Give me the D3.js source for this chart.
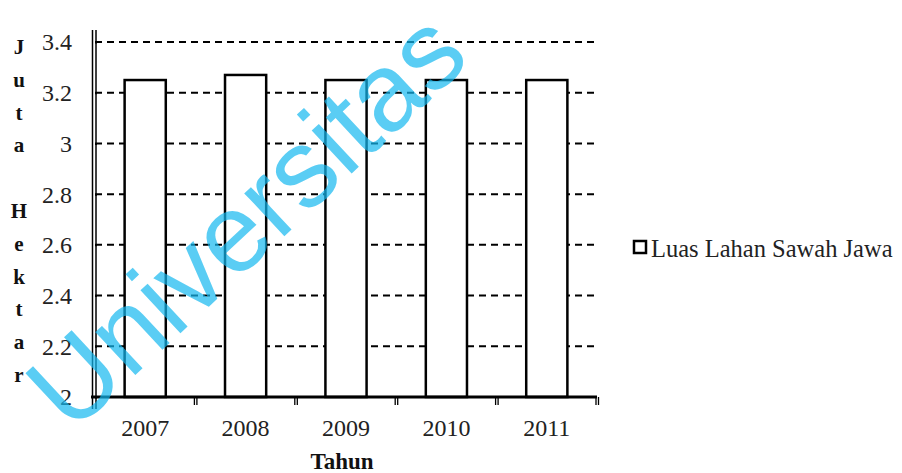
<!DOCTYPE html>
<html><head><meta charset="utf-8">
<script src="https://cdn.jsdelivr.net/npm/d3@7"></script>
<style>body{margin:0;background:#fff}</style>
</head><body>
<svg id="c" width="902" height="473"></svg>
<script>
const categories = ["2007","2008","2009","2010","2011"];
const values = [3.25, 3.27, 3.25, 3.25, 3.25];
const yTicks = [2, 2.2, 2.4, 2.6, 2.8, 3, 3.2, 3.4];
const seriesName = "Luas Lahan Sawah Jawa";
const yTitle = ["J","u","t","a","","H","e","k","t","a","r"];
const xTitle = "Tahun";
const watermark = "Universitas";

const svg = d3.select("#c");
const L = 95, R = 597, T = 42, B = 397;
const x = d3.scaleBand().domain(categories).range([L, R]).paddingInner(0.59).paddingOuter(0.295);
const y = d3.scaleLinear().domain([2, 3.4]).range([B, T]);
const serif = "'Liberation Serif','Times New Roman',serif";

// gridlines
svg.append("g").selectAll("line").data(yTicks.filter(d => d > 2)).join("line")
  .attr("x1", L).attr("x2", R).attr("y1", d => y(d)).attr("y2", d => y(d))
  .attr("stroke", "#000").attr("stroke-width", 2).attr("stroke-dasharray", "7,5");

// bars
svg.append("g").selectAll("rect").data(values).join("rect")
  .attr("x", (d, i) => x(categories[i])).attr("width", x.bandwidth())
  .attr("y", d => y(d)).attr("height", d => B - y(d))
  .attr("fill", "#fff").attr("stroke", "#000").attr("stroke-width", 2.5);

// y axis
const ya = svg.append("g").attr("transform", `translate(${L},0)`)
  .call(d3.axisLeft(y).tickValues(yTicks).tickSize(7).tickPadding(16).tickFormat(d3.format("~g")));
ya.select(".domain").remove();
ya.selectAll(".tick line").attr("stroke-width", 2).attr("x2", 2);
ya.selectAll("text").attr("font-family", serif).attr("font-size", 24).attr("fill", "#222").attr("dy", "0.33em");
svg.append("line").attr("x1", L - 2.5).attr("x2", L - 2.5).attr("y1", T - 12).attr("y2", B + 12).attr("stroke", "#000").attr("stroke-width", 1.5);
svg.append("line").attr("x1", L + 1).attr("x2", L + 1).attr("y1", T - 12).attr("y2", B + 12).attr("stroke", "#000").attr("stroke-width", 1.5);

// x axis
svg.append("line").attr("x1", L - 4).attr("x2", R).attr("y1", B).attr("y2", B).attr("stroke", "#000").attr("stroke-width", 3);
const bounds = categories.map(c => x(c) + x.bandwidth() + x.step() * 0.295);
svg.append("g").selectAll("path").data(bounds).join("path")
  .attr("d", d => `M${d-1},${B} v8 M${d+1.5},${B} v8`).attr("stroke", "#000").attr("stroke-width", 1.3);
svg.append("g").selectAll("text").data(categories).join("text")
  .attr("x", d => x(d) + x.bandwidth() / 2).attr("y", 436).attr("text-anchor", "middle")
  .attr("font-family", serif).attr("font-size", 24).attr("fill", "#222").text(d => d);
svg.append("text").attr("x", 342).attr("y", 469).attr("text-anchor", "middle")
  .attr("font-family", serif).attr("font-size", 23).attr("font-weight", "bold").attr("fill", "#111").text(xTitle);

// y title
svg.append("g").selectAll("text").data(yTitle).join("text")
  .attr("x", 19).attr("y", (d, i) => 54 + i * 32.8).attr("text-anchor", "middle")
  .attr("font-family", serif).attr("font-size", 21).attr("font-weight", "bold").attr("fill", "#111").text(d => d);

// legend
svg.append("rect").attr("x", 634).attr("y", 241).attr("width", 12).attr("height", 12)
  .attr("fill", "#fff").attr("stroke", "#000").attr("stroke-width", 2.5);
svg.append("text").attr("x", 651).attr("y", 257).attr("font-family", serif).attr("font-size", 24.5)
  .attr("fill", "#222").text(seriesName);

// watermark
svg.append("text").attr("transform", "translate(246,220) rotate(-43)")
  .attr("text-anchor", "middle").attr("dominant-baseline", "central")
  .attr("font-family", "'Liberation Sans',Arial,sans-serif").attr("font-size", 111)
  .attr("fill", "#14b8f0").attr("fill-opacity", 0.7).text(watermark);
</script>
</body></html>
